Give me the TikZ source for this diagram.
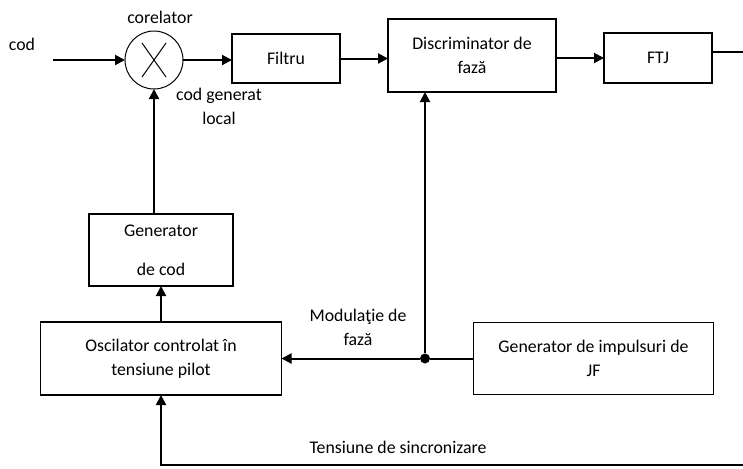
\documentclass[tikz,border=0pt]{standalone}
\usepackage{fontspec}
\setmainfont{Carlito}
\usetikzlibrary{positioning,arrows.meta}

\begin{document}
\begin{tikzpicture}[
    x=0.5pt, y=-0.5pt,
    font=\fontsize{8.9}{12}\selectfont,
    block/.style={
        rectangle,
        draw,
        line width=0.75pt,
        align=center,
        inner sep=0pt,
        outer sep=0pt
    },
    mixer/.style={
        circle,
        draw,
        line width=0.5pt,
        minimum size=29pt,
        inner sep=0pt,
        outer sep=0pt
    },
    junction/.style={
        circle,
        fill=black,
        minimum size=5pt,
        inner sep=0pt
    },
    lbl/.style={
        align=center,
        inner sep=0pt
    },
    line/.style={
        draw,
        -{Triangle[length=5pt,width=5pt]},
        line width=1pt
    },
    wire/.style={
        draw,
        line width=1pt
    }
]
    \useasboundingbox (0,0) rectangle (743,468);

    % Blocks
    \node [mixer] (mult) at (154,60) {};
    \node [block, minimum width=54pt, minimum height=24.5pt, right=24.5pt of mult, yshift=0.75pt] (filtru) {Filtru};
    \node [block, minimum width=84pt, minimum height=36.5pt, right=24pt of filtru, yshift=1.5pt] (disc) {Discriminator de\\fază};
    \node [block, minimum width=54pt, minimum height=25pt, right=24pt of disc, yshift=-1.25pt] (ftj) {FTJ};
    \node [block, minimum width=72pt, minimum height=36pt, below=62.5pt of mult, xshift=3.5pt] (gen) {Generator\\[7.5pt]de cod};
    \node [block, minimum width=120.5pt, minimum height=36.5pt, below=18pt of gen] (osc) {Oscilator controlat în\\tensiune pilot};
    \node [block, minimum width=120pt, minimum height=36pt, right=96pt of osc] (gji) {Generator de impulsuri de\\JF};
    \node [junction] (jct) at (425,0 |- osc.east) {};

    % Cross of the correlator
    \draw [line width=0.5pt] ([shift={(-12,-17)}]mult.center) -- ([shift={(12,17)}]mult.center);
    \draw [line width=0.5pt] ([shift={(12,-17)}]mult.center) -- ([shift={(-12,17)}]mult.center);

    % Free ends
    \coordinate (in) at (53,60);
    \coordinate (out) at (743,52);
    \coordinate (sync) at (743,465);

    % Labels
    \node [lbl] (lcod) at (22,44) {cod};
    \node [lbl] (lcor) at (160,17) {corelator};
    \node [lbl] (lloc) at (219,106) {cod generat\\local};
    \node [lbl] (lmod) at (358,327) {Modulaţie de\\fază};
    \node [lbl] (lsync) at (398,447) {Tensiune de sincronizare};

    % Signal path
    \path [line] (in) -- (mult.west);
    \path [line] (mult) -- (mult -| filtru.west);
    \path [line] (filtru.east) -- (filtru.east -| disc.west);
    \path [line] (ftj.west -| disc.east) -- (ftj.west);
    \path [wire] (out -| ftj.east) -- (out);

    % Local code loop
    \path [line] (gen.north -| mult) -- (mult.south);
    \path [line] (osc.north) -- (osc.north |- gen.south);
    \path [wire] (gji.west) -- (jct);
    \path [line] (jct) -- (osc.east);
    \path [line] (jct) -- (jct |- disc.south);
    \path [line] (sync) -| (osc.south);
\end{tikzpicture}
\end{document}
